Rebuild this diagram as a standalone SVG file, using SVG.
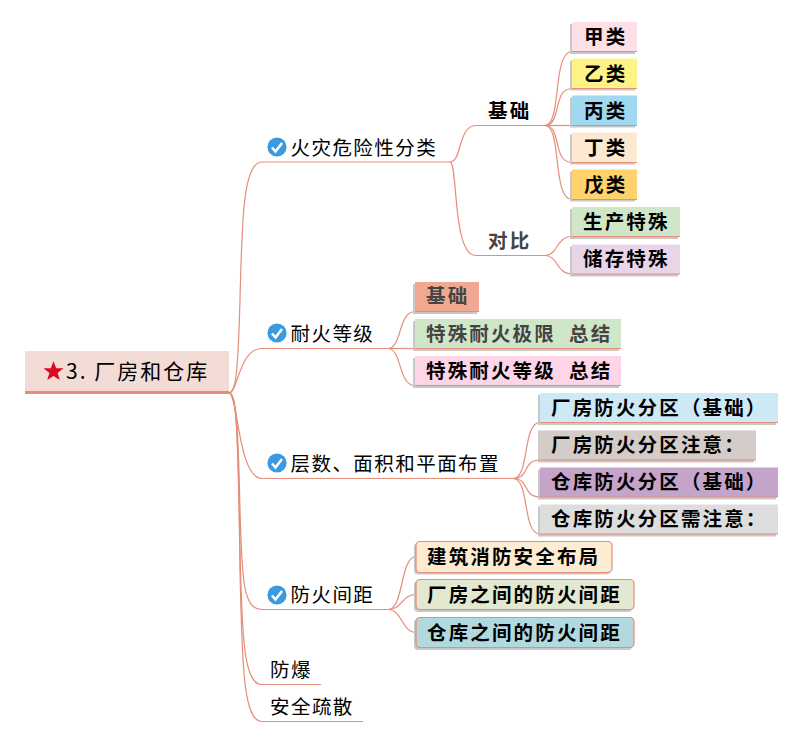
<svg xmlns="http://www.w3.org/2000/svg" width="800" height="743" viewBox="0 0 800 743">
<style>
text{font-family:"Noto Sans CJK SC","Liberation Sans",sans-serif;font-size:19.5px;letter-spacing:1.45px;fill:#000}
.b{font-weight:700;letter-spacing:2.15px}
.t{font-size:21px;letter-spacing:2px}
.g{fill:#444}
.s{fill:#c8c8c8}
.c{fill:none;stroke:#e58d78;stroke-width:1.2}
.u{fill:none;stroke:#e58d78;stroke-width:1.2}
.r{stroke:#e58d78;stroke-width:1.2}
</style>
<defs>
<g id="chk"><circle r="9.6" fill="#3b99e0"/><path d="M-5 0.5L-1.500 4.500L5 -4" fill="none" stroke="#fff" stroke-width="2.6"/></g>
</defs>
<g id="connectors">
<path class="c" d="M229 393C236 393 238 370 240 300C242 220 243 162 262 162H450"/>
<path class="c" d="M229 393C238 393 239 348.500 262 348.500H388"/>
<path class="c" d="M229 393C238 393 238 478.500 262 478.500H513"/>
<path class="c" d="M229 393C236 393 238 420 240 510C242 580 243 609.500 262 609.500H388"/>
<path class="c" d="M229 393C236 393 238 420 240 550C242 640 244 684.500 262 684.500H321"/>
<path class="c" d="M229 393C236 393 238 420 240 570C242 670 244 721.500 262 721.500H363"/>
<path class="c" d="M450 162C462 162 458 125.500 476 125.500H545"/>
<path class="c" d="M450 162C458 162 452 255.500 476 255.500H545"/>
<path class="c" d="M545 125.500C562 125.500 552 51.500 572 51.500"/>
<path class="c" d="M545 125.500C562 125.500 552 88.500 572 88.500"/>
<path class="c" d="M545 125.500H572"/>
<path class="c" d="M545 125.500C562 125.500 552 162.500 572 162.500"/>
<path class="c" d="M545 125.500C562 125.500 552 199.500 572 199.500"/>
<path class="c" d="M545 255.500C558 255.500 556 236.500 572 236.500"/>
<path class="c" d="M545 255.500C558 255.500 556 274 572 274"/>
<path class="c" d="M388 348.500C402 348.500 398 311.500 415 311.500"/>
<path class="c" d="M388 348.500H415"/>
<path class="c" d="M388 348.500C402 348.500 398 385.500 415 385.500"/>
<path class="c" d="M513 478.500C530 478.500 522 422.500 540 422.500"/>
<path class="c" d="M513 478.500C530 478.500 522 460 540 460"/>
<path class="c" d="M513 478.500C530 478.500 522 497 540 497"/>
<path class="c" d="M513 478.500C530 478.500 522 534 540 534"/>
<path class="c" d="M388 609.500C404 609.500 400 556.500 416 556.500"/>
<path class="c" d="M388 609.500C402 609.500 402 594.500 416 594.500"/>
<path class="c" d="M388 609.500C402 609.500 402 632.500 416 632.500"/>
</g>
<g id="root"><rect x="25" y="351" width="204" height="40" fill="#f4dcd6"/><rect x="25" y="391" width="204" height="3" fill="#e58d78"/><path d="M53.500 361L56.200 368.200H63.500L57.600 372.900L59.800 380L53.500 376L47.200 380L49.400 372.900L43.500 368.200H50.800Z" fill="#dc0a1e"/><text class="t" x="66" y="379">3. 厂房和仓库</text></g>
<g id="n1"><use href="#chk" x="277" y="147"/><text x="290.500" y="155">火灾危险性分类</text></g>
<g id="n1a"><text class="b" x="488" y="118">基础</text></g>
<g id="n1b"><text class="b g" x="488" y="248">对比</text></g>
<g id="n1a1"><rect class="s" x="570" y="24" width="65" height="30"/><rect x="572" y="22" width="65" height="29.500" fill="#fde0e6"/><path class="u" d="M572 51.500H637"/><text class="b" x="584" y="44">甲类</text></g>
<g id="n1a2"><rect class="s" x="570" y="60.500" width="65" height="30"/><rect x="572" y="58.500" width="65" height="30" fill="#fff388"/><path class="u" d="M572 88.500H637"/><text class="b" x="584" y="81">乙类</text></g>
<g id="n1a3"><rect class="s" x="570" y="97.500" width="65" height="30"/><rect x="572" y="95.500" width="65" height="30" fill="#a0d8f0"/><path class="u" d="M572 125.500H637"/><text class="b" x="584" y="118">丙类</text></g>
<g id="n1a4"><rect class="s" x="570" y="134.500" width="65" height="30"/><rect x="572" y="132.500" width="65" height="30" fill="#fde8d2"/><path class="u" d="M572 162.500H637"/><text class="b" x="584" y="155">丁类</text></g>
<g id="n1a5"><rect class="s" x="570" y="171.500" width="65" height="30"/><rect x="572" y="169.500" width="65" height="30" fill="#ffd26e"/><path class="u" d="M572 199.500H637"/><text class="b" x="584" y="192">戊类</text></g>
<g id="n1b1"><rect class="s" x="570" y="209" width="108" height="30"/><rect x="572" y="207" width="108" height="29.500" fill="#cfe6c8"/><path class="u" d="M572 236.500H680"/><text class="b" x="583" y="229">生产特殊</text></g>
<g id="n1b2"><rect class="s" x="570" y="246.500" width="108" height="30"/><rect x="572" y="244.500" width="108" height="29.500" fill="#e8d5e8"/><path class="u" d="M572 274H680"/><text class="b" x="583" y="266">储存特殊</text></g>
<g id="n2"><use href="#chk" x="277" y="333"/><text x="290.500" y="341">耐火等级</text></g>
<g id="n2a"><rect class="s" x="413" y="284" width="64" height="30"/><rect x="415" y="282" width="64" height="29.500" fill="#f0a890"/><path class="u" d="M415 311.500H479"/><text class="b g" x="426" y="303">基础</text></g>
<g id="n2b"><rect class="s" x="413" y="321" width="206" height="30"/><rect x="415" y="319" width="206" height="29.500" fill="#cfe6c8"/><path class="u" d="M415 348.500H621"/><text class="b g" x="426" y="341" xml:space="preserve">特殊耐火极限  总结</text></g>
<g id="n2c"><rect class="s" x="413" y="358" width="206" height="30"/><rect x="415" y="356" width="206" height="29.500" fill="#fdd5e6"/><path class="u" d="M415 385.500H621"/><text class="b" x="426" y="378" xml:space="preserve">特殊耐火等级  总结</text></g>
<g id="n3"><use href="#chk" x="277" y="463"/><text x="290.500" y="471">层数、面积和平面布置</text></g>
<g id="n3a"><rect class="s" x="538" y="395" width="238" height="30"/><rect x="540" y="393" width="238" height="29.500" fill="#cde9f6"/><path class="u" d="M540 422.500H778"/><text class="b" x="551" y="415">厂房防火分区（基础）</text></g>
<g id="n3b"><rect class="s" x="538" y="432.500" width="216" height="30"/><rect x="538" y="430.500" width="218" height="29.500" fill="#d3ccc8"/><path class="u" d="M538 460H756"/><text class="b" x="551" y="452">厂房防火分区注意：</text></g>
<g id="n3c"><rect class="s" x="538" y="469.500" width="238" height="30"/><rect x="540" y="467.500" width="238" height="29.500" fill="#c4a4c8"/><path class="u" d="M540 497H778"/><text class="b" x="551" y="489">仓库防火分区（基础）</text></g>
<g id="n3d"><rect class="s" x="538" y="506.500" width="238" height="30"/><rect x="540" y="504.500" width="238" height="29.500" fill="#dddddd"/><path class="u" d="M540 534H778"/><text class="b" x="551" y="526">仓库防火分区需注意：</text></g>
<g id="n4"><use href="#chk" x="277" y="595"/><text x="290.500" y="602">防火间距</text></g>
<g id="n4a"><rect class="s" x="414" y="543" width="196" height="31.500" rx="4"/><rect class="r" x="416" y="541.500" width="196" height="31" rx="4" fill="#fdecd2"/><text class="b" x="427" y="564">建筑消防安全布局</text></g>
<g id="n4b"><rect class="s" x="414" y="581" width="218" height="31" rx="4"/><rect class="r" x="416" y="579.500" width="218" height="30" rx="4" fill="#e2e9d0"/><text class="b" x="427" y="602">厂房之间的防火间距</text></g>
<g id="n4c"><rect class="s" x="414" y="619" width="218" height="31" rx="4"/><rect class="r" x="416" y="617.500" width="218" height="30" rx="4" fill="#b2dade"/><text class="b" x="427" y="640">仓库之间的防火间距</text></g>
<g id="n5"><text x="270" y="677">防爆</text></g>
<g id="n6"><text x="270" y="714">安全疏散</text></g>
</svg>
